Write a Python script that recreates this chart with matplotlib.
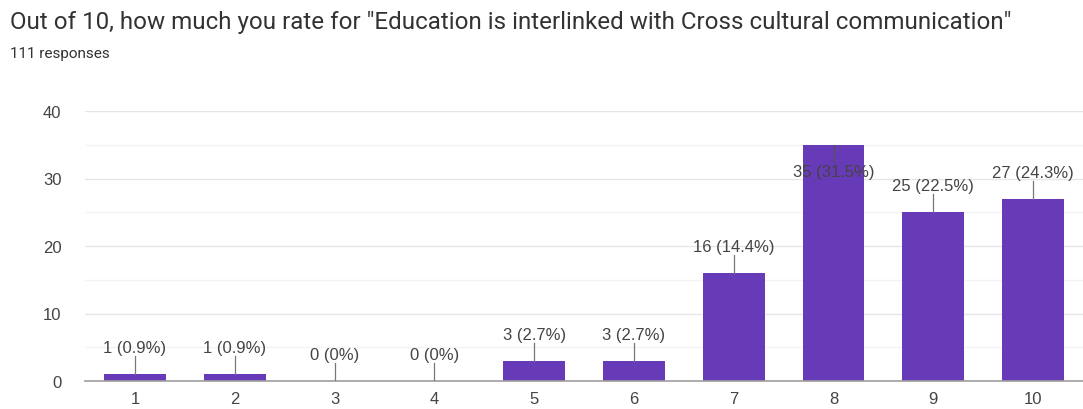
import matplotlib
matplotlib.use("Agg")
import matplotlib.pyplot as plt

categories = ["1", "2", "3", "4", "5", "6", "7", "8", "9", "10"]
counts = [1, 1, 0, 0, 3, 3, 16, 35, 25, 27]
total = 111
title = 'Out of 10, how much you rate for "Education is interlinked with Cross cultural communication"'
subtitle = "111 responses"
yticks = [0, 10, 20, 30, 40]

BAR = "#673ab7"
TXT = "#444444"

fig = plt.figure(figsize=(10.83, 4.10), dpi=100)
ax = fig.add_axes([85 / 1083, 28 / 410, 998 / 1083, 270 / 410])

x = list(range(1, len(categories) + 1))
ax.bar(x, counts, width=0.62, color=BAR, zorder=3)

ax.set_xlim(0.5, 10.5)
ax.set_ylim(0, 40)
ax.set_yticks(yticks)
ax.set_yticks([5, 15, 25, 35], minor=True)
ax.set_xticks(x)
ax.set_xticklabels(categories)
ax.grid(axis="y", which="major", color="#e6e6e6", linewidth=1, zorder=0)
ax.grid(axis="y", which="minor", color="#f3f3f3", linewidth=1, zorder=0)
for s in ["top", "right", "left"]:
    ax.spines[s].set_visible(False)
ax.spines["bottom"].set_color("#9e9e9e")
ax.spines["bottom"].set_linewidth(1.2)
ax.spines["bottom"].set_zorder(4)
ax.tick_params(axis="both", which="both", length=0, labelsize=12, labelcolor=TXT)
ax.tick_params(axis="x", pad=7)
ax.tick_params(axis="y", pad=17)
for lab in ax.get_xticklabels() + ax.get_yticklabels():
    lab.set_fontfamily("Liberation Sans")

off = 3.9
for xi, c in zip(x, counts):
    pct = c / total * 100
    label = f"{c} (0%)" if c == 0 else f"{c} ({pct:.1f}%)"
    if c + off > 36:
        ly = c - off
        ax.plot([xi, xi], [c, ly + 1.3], color="#555555", lw=0.9, zorder=5)
    else:
        ly = c + off
        ax.plot([xi, xi], [c, ly - 1.2], color="#777777", lw=0.9, zorder=5)
    ax.text(xi, ly, label, ha="center", va="center", fontsize=12,
            color=TXT, family="Liberation Sans", zorder=6)

fig.text(10 / 1083, 1 - 22 / 410, title, ha="left", va="center",
         fontsize=17.4, color="#333333", family="Roboto")
fig.text(10 / 1083, 1 - 54 / 410, subtitle, ha="left", va="center",
         fontsize=11, color="#333333", family="Roboto")

fig.savefig("out.png", dpi=100)
